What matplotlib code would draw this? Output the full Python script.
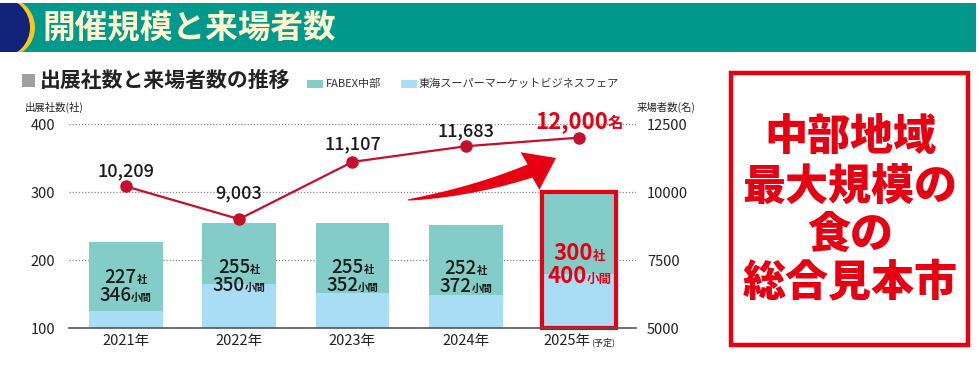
import matplotlib
matplotlib.use("Agg")
import numpy as np
import matplotlib.pyplot as plt
from matplotlib.patches import Rectangle, Ellipse, Polygon
from matplotlib.transforms import IdentityTransform

plt.rcParams['font.family'] = ['Noto Sans CJK JP', 'DejaVu Sans']

# ---------------- data ----------------
years = ["2021年", "2022年", "2023年", "2024年", "2025年"]
year_note = ["", "", "", "", "(予定)"]
exhibitors_total = [227, 255, 255, 252, 300]        # 出展社数 (社)
tokai_part = [125, 164, 151, 149, 179]               # 東海スーパーマーケットビジネスフェア portion
booths = [346, 350, 352, 372, 400]                   # 小間
visitors = [10209, 9003, 11107, 11683, 12000]        # 来場者数 (名)
visitor_labels = ["10,209", "9,003", "11,107", "11,683", "12,000"]
left_ticks = [100, 200, 300, 400]
right_ticks = [5000, 7500, 10000, 12500]

W, H = 979, 384
fig = plt.figure(figsize=(W / 100, H / 100), dpi=100)


def fx(x):
    return x / W


def fy(y):
    return (H - y) / H


TEAL_BAR = "#84CCC7"
BLUE_BAR = "#A9DDF6"
RED = "#E60012"
LINE_RED = "#C4102B"

# ---------------- banner ----------------
fig.add_artist(Rectangle((fx(0), fy(52)), fx(976), 49 / H, transform=fig.transFigure,
                         facecolor="#00998C", edgecolor="none", zorder=1))
ban = Rectangle((fx(0), fy(52)), fx(976), 49 / H, transform=fig.transFigure,
                facecolor="none", edgecolor="none")
fig.add_artist(ban)
e1 = Ellipse((fx(5), fy(27.5)), 2 * 30 / W, 2 * 30 / H, transform=fig.transFigure,
             facecolor="#F6C71E", edgecolor="none", zorder=2)
e2 = Ellipse((fx(0), fy(27.5)), 2 * 30 / W, 2 * 30 / H, transform=fig.transFigure,
             facecolor="#12237A", edgecolor="none", zorder=3)
for e in (e1, e2):
    fig.add_artist(e)
    e.set_clip_path(ban)
fig.text(fx(42), fy(28), "開催規模と来場者数", fontsize=23.5, fontweight="bold",
         color="#FFF6CF", va="center", ha="left", zorder=5)

# ---------------- subtitle + legend ----------------
fig.add_artist(Rectangle((fx(22), fy(87)), 13 / W, 13 / H, transform=fig.transFigure,
                         facecolor="#A0A0A0", edgecolor="none"))
fig.text(fx(40), fy(80), "出展社数と来場者数の推移", fontsize=15, fontweight="bold",
         color="#222222", va="center", ha="left")
fig.add_artist(Rectangle((fx(307), fy(88)), 16 / W, 8 / H, transform=fig.transFigure,
                         facecolor=TEAL_BAR, edgecolor="none"))
fig.text(fx(326), fy(84), "FABEX中部", fontsize=8, color="#333333", va="center", ha="left")
fig.add_artist(Rectangle((fx(401), fy(88)), 16 / W, 8 / H, transform=fig.transFigure,
                         facecolor=BLUE_BAR, edgecolor="none"))
fig.text(fx(419), fy(84), "東海スーパーマーケットビジネスフェア", fontsize=8, color="#333333",
         va="center", ha="left")

# ---------------- axes ----------------
ax = fig.add_axes([fx(69), fy(328), (636 - 69) / W, (328 - 124) / H])
ax2 = ax.twinx()
x = list(range(len(years)))

ax.set_xlim(-0.5, 4.5)
ax.set_ylim(100, 400)
ax2.set_ylim(5000, 12500)

for v in left_ticks[1:]:
    ax.axhline(v, color="#888888", lw=0.9, ls=(0, (1, 1.5)), zorder=0)

bar_w = 0.65
fab_part = [t - b for t, b in zip(exhibitors_total, tokai_part)]
ax.bar(x, tokai_part, width=bar_w, color=BLUE_BAR, zorder=2)
ax.bar(x, fab_part, bottom=tokai_part, width=bar_w, color=TEAL_BAR, zorder=2)
# highlight box for planned year
ax.bar([x[-1]], [exhibitors_total[-1] - left_ticks[0]], bottom=left_ticks[0], width=bar_w,
       facecolor="none", edgecolor=RED, linewidth=3, zorder=3, clip_on=False)

for s in ["top", "left", "right"]:
    ax.spines[s].set_visible(False)
    ax2.spines[s].set_visible(False)
ax2.spines["bottom"].set_visible(False)
ax.spines["bottom"].set_color("#555555")
ax.spines["bottom"].set_linewidth(1.2)
ax.spines["bottom"].set_zorder(4)

ax.set_yticks(left_ticks)
ax.set_yticklabels([str(v) for v in left_ticks], fontsize=10.5, color="#222222")
ax.tick_params(axis="y", length=0, pad=10)
ax2.set_yticks(right_ticks)
ax2.set_yticklabels([str(v) for v in right_ticks], fontsize=10.5, color="#222222")
ax2.tick_params(axis="y", length=0, pad=8)
ax.set_xticks(x)
ax.set_xticklabels([])
ax.tick_params(axis="x", length=0)

# line
ax2.plot(x, visitors, color=LINE_RED, lw=1.6, marker="o", markersize=8, zorder=5)

fig.canvas.draw()
renderer = fig.canvas.get_renderer()


def combo(xd, yd, trans, parts, dy=0.0, color="#111111"):
    """Place text parts (string, size, weight) centered at a point, baseline shifted dy px."""
    texts = []
    for s, fs, wt in parts:
        t = fig.text(0, 0, s, fontsize=fs, fontweight=wt, color=color,
                     ha="left", va="baseline", transform=IdentityTransform(), zorder=10)
        texts.append(t)
    widths = [t.get_window_extent(renderer).width for t in texts]
    X, Y = trans.transform((xd, yd))
    cur = X - sum(widths) / 2
    for t, w in zip(texts, widths):
        t.set_position((cur, Y + dy))
        cur += w


# x labels
for i, (yr, note) in enumerate(zip(years, year_note)):
    parts = [(yr, 10.5, "normal")]
    if note:
        parts.append((note, 6.5, "normal"))
    combo(i, 100, ax.transData, parts, dy=-17, color="#222222")

# bar labels
for i in x:
    mid = (100 + exhibitors_total[i]) / 2
    if i == len(x) - 1:
        combo(i, mid, ax.transData, [(str(exhibitors_total[i]), 16, "bold"), ("社", 9, "bold")],
              dy=0, color=RED)
        combo(i, mid, ax.transData, [(str(booths[i]), 16, "bold"), ("小間", 9, "bold")],
              dy=-23, color=RED)
    else:
        combo(i, mid, ax.transData, [(str(exhibitors_total[i]), 13.5, "medium"), ("社", 7.5, "bold")],
              dy=2, color="#1a1a1a")
        combo(i, mid, ax.transData, [(str(booths[i]), 13.5, "medium"), ("小間", 7.5, "bold")],
              dy=-16, color="#1a1a1a")

# line labels
line_dy = [10, 21, 12, 10]
for i in range(len(x) - 1):
    combo(i, visitors[i], ax2.transData, [(visitor_labels[i], 13, "medium")],
          dy=line_dy[i], color="#1a1a1a")
combo(x[-1], visitors[-1], ax2.transData,
      [(visitor_labels[-1], 16, "bold"), ("名", 11, "bold")], dy=10, color=RED)

# axis titles
fig.text(fx(25), fy(107), "出展社数(社)", fontsize=7.5, color="#222222", va="center", ha="left")
fig.text(fx(637), fy(107), "来場者数(名)", fontsize=7.5, color="#222222", va="center", ha="left")

# big decorative arrow (tapered tail + head), in image pixel coords
P0, P1, P2 = np.array([408, 200.0]), np.array([472, 192.0]), np.array([530, 171.0])
tip = np.array([556, 158.0])
ts = np.linspace(0, 1, 40)
pts = ((1 - ts) ** 2)[:, None] * P0 + (2 * ts * (1 - ts))[:, None] * P1 + (ts ** 2)[:, None] * P2
der = (2 * (1 - ts))[:, None] * (P1 - P0) + (2 * ts)[:, None] * (P2 - P1)
nrm = np.stack([-der[:, 1], der[:, 0]], axis=1)
nrm /= np.linalg.norm(nrm, axis=1)[:, None]
half = 0.5 + 6.5 * ts ** 0.8
upper = pts + nrm * half[:, None]
lower = pts - nrm * half[:, None]
hd = (tip - P2) / np.linalg.norm(tip - P2)
hn = np.array([-hd[1], hd[0]])
b1 = P2 + hn * 21
b2 = P2 - hn * 21
poly = np.vstack([upper, b1, tip, b2, lower[::-1]])
fig.add_artist(Polygon(np.column_stack([poly[:, 0] / W, (H - poly[:, 1]) / H]),
                       closed=True, transform=fig.transFigure, facecolor=RED,
                       edgecolor="none", zorder=6))

# right box
fig.add_artist(Rectangle((fx(731), fy(345)), (968 - 731) / W, (345 - 73) / H,
                         transform=fig.transFigure, facecolor="white", edgecolor=RED,
                         linewidth=3.2))
for txt, yy in zip(["中部地域", "最大規模の", "食の", "総合見本市"], [137, 188, 235, 283]):
    fig.text(fx(850), fy(yy), txt, fontsize=31, fontweight="heavy", color=RED,
             ha="center", va="center")

fig.savefig("out.png", dpi=100)
